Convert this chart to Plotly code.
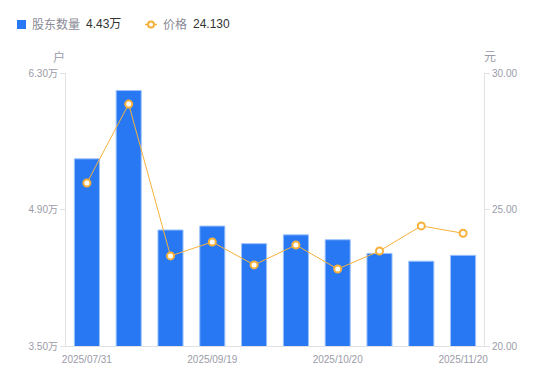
import plotly.graph_objects as go

dates = ["2025/07/31", "2025/08/10", "2025/08/31", "2025/09/19", "2025/09/30",
         "2025/10/10", "2025/10/20", "2025/10/31", "2025/11/10", "2025/11/20"]
holders_wan = [5.42, 6.12, 4.69, 4.73, 4.55, 4.64, 4.59, 4.45, 4.37, 4.43]
price = [25.97, 28.86, 23.30, 23.81, 22.97, 23.70, 22.82, 23.48, 24.40, 24.13]
shown_ticks = ["2025/07/31", "2025/09/19", "2025/10/20", "2025/11/20"]
left_ticks = [3.5, 4.9, 6.3]
left_tick_text = ["3.50万", "4.90万", "6.30万"]
right_ticks = [20, 25, 30]
right_tick_text = ["20.00", "25.00", "30.00"]

FONT = "Liberation Sans, Arial, 'Noto Sans CJK SC', sans-serif"
TICK_COLOR = "#9b9ba8"
AXIS_LINE = "#e2e2e6"
BLUE = "#2878f4"
ORANGE = "#f7b13a"

# page body has an 8px default margin, so the figure is drawn 8px in
OFF = 8
W, H = 550 - OFF, 381 - OFF
# plot area in page pixels: x 66..484, y 73..346
L, R, T, B = 66 - OFF, 550 - 484, 73 - OFF, 381 - 346
PW, PH = W - L - R, H - T - B


def px(x):
    return (x - OFF - L) / PW


def py(y):
    return (H - B - (y - OFF)) / PH


fig = go.Figure()
fig.add_trace(go.Bar(
    x=dates, y=holders_wan, name="股东数量",
    marker=dict(color=BLUE, line=dict(color="#9cc2fa", width=1)),
    width=0.6, yaxis="y",
))
fig.add_trace(go.Scatter(
    x=dates, y=price, name="价格",
    mode="lines+markers",
    line=dict(color=ORANGE, width=1),
    marker=dict(symbol="circle", size=7, color="white", line=dict(color=ORANGE, width=2)),
    yaxis="y2",
))

shapes = [
    dict(type="rect", xref="paper", yref="paper", x0=px(17), x1=px(26), y0=py(20), y1=py(29),
         fillcolor=BLUE, line=dict(width=0)),
    dict(type="line", xref="paper", yref="paper", x0=px(145), x1=px(157), y0=py(24.5), y1=py(24.5),
         line=dict(color=ORANGE, width=1.5)),
    dict(type="circle", xref="paper", yref="paper", x0=px(148), x1=px(154), y0=py(21.5), y1=py(27.5),
         fillcolor="white", line=dict(color=ORANGE, width=2)),
]

ann_font = dict(size=12, color=TICK_COLOR)
annotations = [
    dict(text="股东数量", x=px(30), y=py(24.5), xanchor="left", yanchor="middle",
         font=dict(size=12, color="#8a8a96")),
    dict(text="4.43万", x=px(84), y=py(24.5), xanchor="left", yanchor="middle",
         font=dict(size=12, color="#333333")),
    dict(text="价格", x=px(161), y=py(24.5), xanchor="left", yanchor="middle",
         font=dict(size=12, color="#8a8a96")),
    dict(text="24.130", x=px(191), y=py(24.5), xanchor="left", yanchor="middle",
         font=dict(size=12, color="#333333")),
    dict(text="户", x=px(59), y=py(57), xanchor="center", yanchor="middle", font=ann_font),
    dict(text="元", x=px(490), y=py(57), xanchor="center", yanchor="middle", font=ann_font),
]
for a in annotations:
    a.update(xref="paper", yref="paper", showarrow=False)

fig.update_layout(
    width=W, height=H,
    margin=dict(l=L, r=R, t=T, b=B),
    paper_bgcolor="white", plot_bgcolor="white",
    font=dict(family=FONT, size=10, color=TICK_COLOR),
    showlegend=False,
    shapes=shapes,
    annotations=annotations,
    xaxis=dict(
        type="category", categoryorder="array", categoryarray=dates,
        range=[-0.5, len(dates) - 0.5],
        tickvals=shown_ticks, ticktext=shown_ticks, automargin=False,
        showgrid=False, showline=True, linecolor=AXIS_LINE, linewidth=1,
        ticks="outside", ticklen=4, tickcolor="rgba(0,0,0,0)",
        tickfont=dict(size=10, color=TICK_COLOR),
        zeroline=False,
    ),
    yaxis=dict(
        range=[3.5, 6.3], tickvals=left_ticks, ticktext=left_tick_text, automargin=False,
        showgrid=False, showline=True, linecolor=AXIS_LINE, linewidth=1,
        ticks="outside", ticklen=5, tickcolor=AXIS_LINE,
        tickfont=dict(size=10, color=TICK_COLOR), zeroline=False,
    ),
    yaxis2=dict(
        range=[20, 30], tickvals=right_ticks, ticktext=right_tick_text, automargin=False,
        overlaying="y", side="right",
        showgrid=False, showline=True, linecolor=AXIS_LINE, linewidth=1,
        ticks="outside", ticklen=5, tickcolor=AXIS_LINE,
        tickfont=dict(size=10, color=TICK_COLOR), zeroline=False,
    ),
)

fig.write_html("out.html")
